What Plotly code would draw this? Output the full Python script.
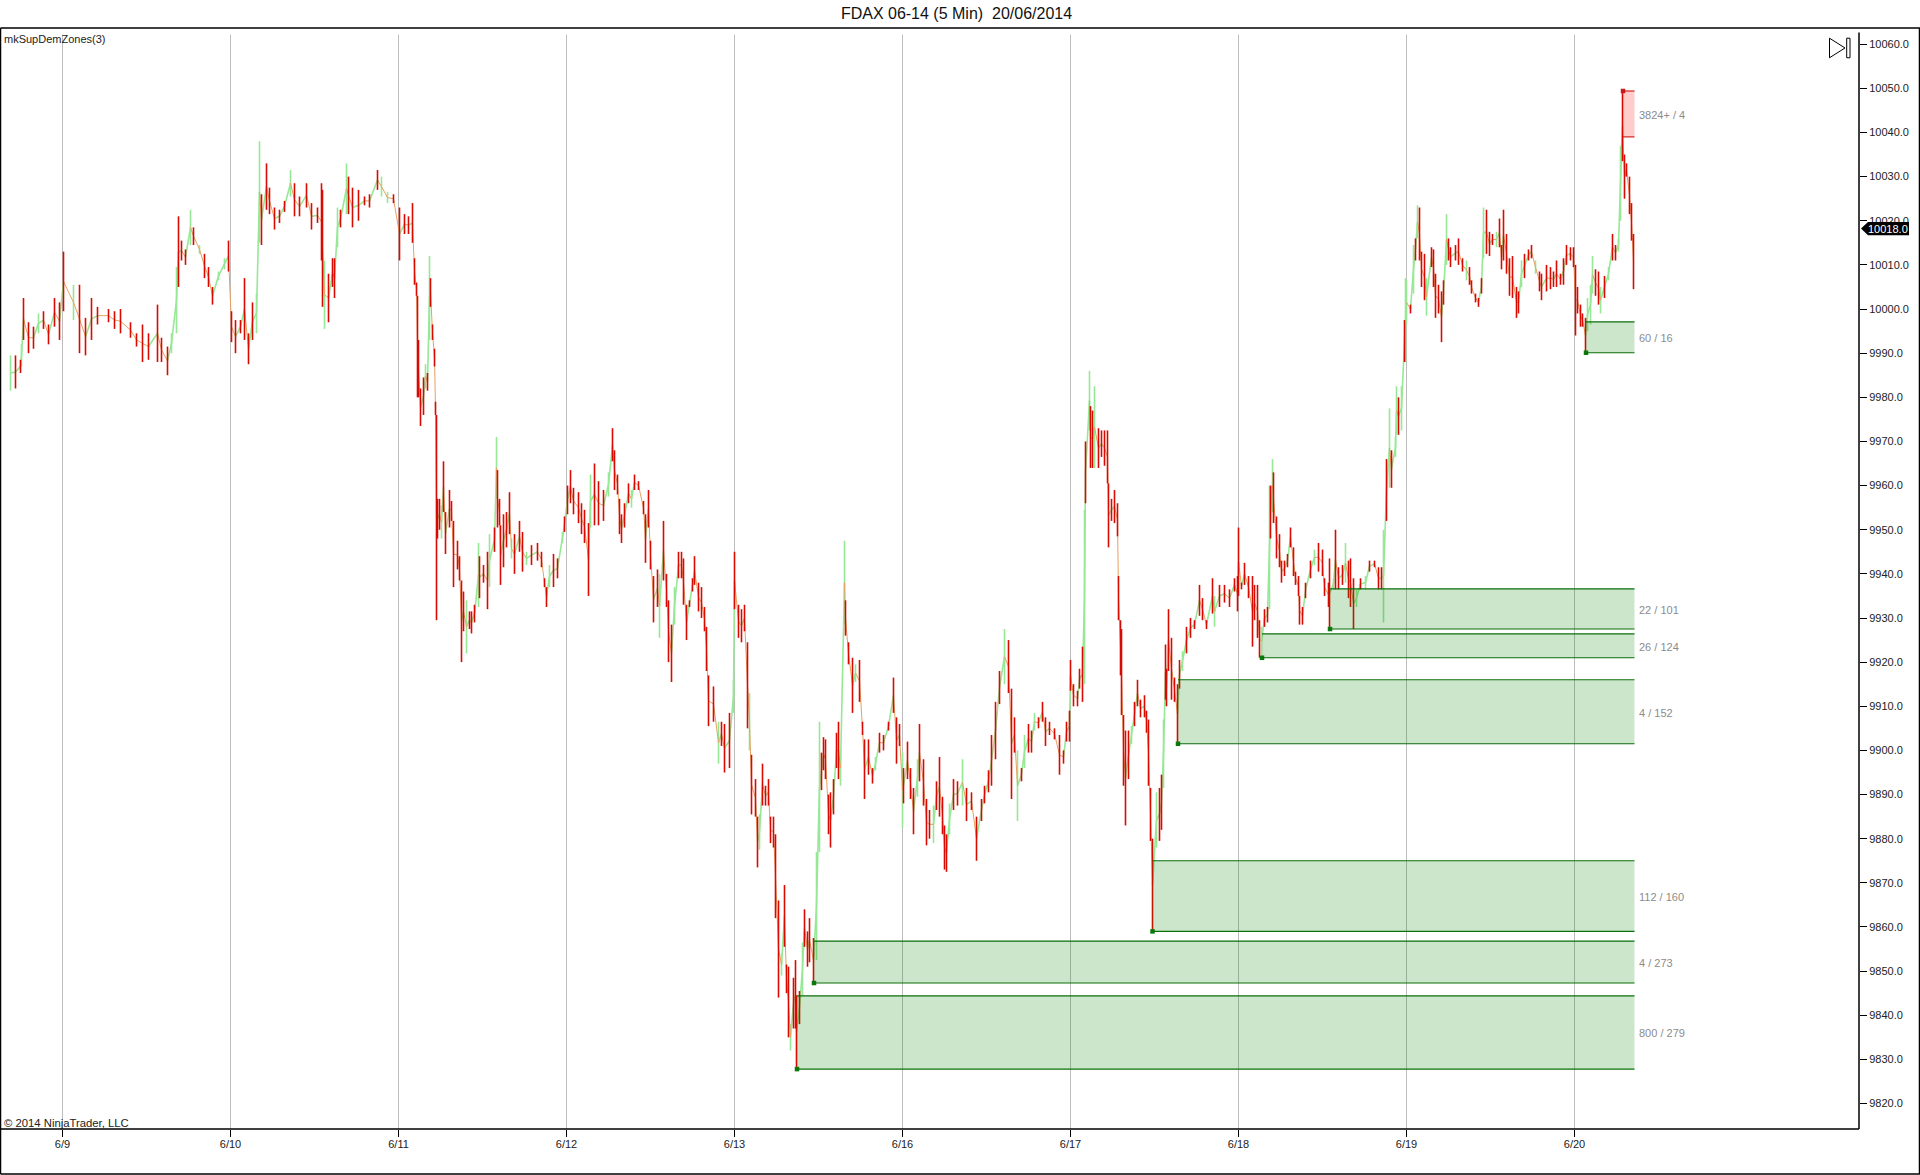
import plotly.graph_objects as go

# bars: time = 5 min bar number counted from the 6/9 tick
time_0606 = [-52, -47, -42, -41, -39, -34, -29, -24, -19, -14, -8, -3]
high_0606 = [9989.5, 9989.5, 9988.5, 9992, 10002.5, 9997, 9996, 9999, 9999.5, 9996.5, 10002.5, 10001.5]
low_0606 = [9981.5, 9982, 9985.5, 9987, 9993, 9990, 9991, 9994.5, 9995.5, 9992, 9996, 9993]

time_0609 = [1, 11, 17, 23, 29, 35, 46, 52, 58, 68, 74, 80, 86, 95, 99, 105, 109, 114, 116, 119, 123, 128, 131, 137, 142, 146, 150, 156, 162, 166]
high_0609 = [10013, 10005.5, 10005.5, 9998, 10002.5, 10000.5, 10000, 9999.5, 10000, 9997, 9994.5, 9996.5, 9994.5, 10001, 9993.5, 9991.5, 9994.5, 10009.5, 10021, 10015.5, 10013.5, 10022.5, 10018.5, 10014.5, 10012.5, 10009.5, 10005, 10008.5, 10011.5, 10015.5]
low_0609 = [9999.5, 9997.5, 9990, 9989.5, 9993, 9996.5, 9997, 9995.5, 9994.5, 9993.5, 9991.5, 9988, 9988.5, 9988, 9988, 9985, 9990, 9994.5, 10005, 10011, 10010, 10014.5, 10014.5, 10012.5, 10007, 10005, 10001, 10006.5, 10009, 10008.5]

time_0610 = [169, 173, 178, 182, 186, 190, 194, 197, 199, 204, 207, 212, 217, 222, 228, 232, 237, 244, 249, 255, 259, 260, 262, 266, 270, 272, 275, 278, 284, 286, 290, 296, 302, 307, 315, 319, 325, 331]
high_0610 = [9999.5, 9997.5, 9997.5, 10007, 9994.5, 10001.5, 10003.5, 10038, 10026, 10033, 10027.5, 10023, 10022.5, 10024.5, 10031.5, 10028.5, 10025.5, 10028.5, 10024, 10023, 10028.5, 10027, 10011, 10008, 10011.5, 10011.5, 10023, 10022.5, 10033, 10030, 10027.5, 10027, 10025.5, 10026, 10031.5, 10030, 10026.5, 10026]
low_0610 = [9992.5, 9990, 9994.5, 9993, 9987.5, 9993, 9994.5, 10015, 10014.5, 10022.5, 10021.5, 10018, 10019.5, 10022, 10025.5, 10021, 10021, 10023, 10018, 10019.5, 10011, 10000.5, 9995.5, 9997, 10005, 10002.5, 10014, 10018.5, 10021.5, 10021.5, 10018.5, 10020, 10023.5, 10023, 10027, 10025.5, 10024, 10024]

time_0611 = [337, 342, 346, 350, 352, 354, 355, 356, 358, 361, 363, 365, 367, 368, 370, 372, 373, 374, 375, 377, 379, 381, 383, 387, 389, 391, 395, 397, 399, 401, 404, 407, 409, 412, 416, 417, 421, 425, 427, 432, 434, 435, 437, 438, 441, 444, 447, 449, 452, 457, 460, 464, 469, 475, 479, 482, 484, 487, 491, 495, 500, 502]
high_0611 = [10023, 10021.5, 10021, 10024, 10011.5, 10006, 10003, 9993, 9982, 9984.5, 9987.5, 9985.5, 10012, 10007, 9996.5, 9991, 9979, 9976, 9957, 9957, 9955.5, 9965.5, 9954, 9959, 9956.5, 9952, 9947.5, 9944, 9938.5, 9936, 9934, 9931.5, 9931.5, 9933, 9947, 9944, 9942, 9945, 9949, 9950.5, 9971, 9963.5, 9957, 9951, 9953.5, 9954, 9958.5, 9948, 9949, 9952, 9949.5, 9945, 9946.5, 9947, 9945, 9939, 9937, 9942, 9944.5, 9943.5, 9949.5, 9953]
low_0611 = [10011, 10017, 10017, 10015, 10005.5, 10003, 9980, 9980, 9973.5, 9976, 9982, 9981.5, 9993, 10000.5, 9993, 9987, 9976, 9929.5, 9948, 9950, 9948, 9954, 9944.5, 9950.5, 9952, 9937, 9941, 9938.5, 9920, 9927, 9922, 9927.5, 9926.5, 9929, 9932.5, 9934.5, 9938, 9932, 9937, 9945, 9957, 9950.5, 9951, 9937.5, 9941.5, 9946, 9949, 9943.5, 9940, 9945, 9940.5, 9942, 9942, 9943, 9941.5, 9937, 9932.5, 9937, 9937, 9939, 9947, 9949.5]

time_0612 = [505, 508, 511, 516, 519, 522, 526, 528, 532, 536, 541, 546, 550, 552, 555, 557, 559, 562, 566, 569, 572, 576, 581, 583, 586, 588, 591, 595, 597, 601, 604, 606, 609, 612, 616, 619, 621, 624, 627, 630, 632, 636, 639, 642, 644, 646, 651, 656, 659, 662, 667, 671]
high_0612 = [9960, 9963.5, 9959.5, 9958.5, 9956, 9954.5, 9951.5, 9962.5, 9965, 9961, 9959, 9963, 9973, 9968, 9962.5, 9957, 9953.5, 9956, 9960.5, 9959, 9962.5, 9961, 9956.5, 9953.5, 9959, 9947.5, 9939.5, 9941, 9940, 9952, 9940, 9934, 9928.5, 9937, 9945, 9945, 9943.5, 9933, 9934, 9939, 9944, 9938, 9937, 9932.5, 9928, 9917, 9914.5, 9906.5, 9906.5, 9906, 9908.5, 9916]
low_0612 = [9953.5, 9956, 9953.5, 9951.5, 9949, 9947, 9935, 9950.5, 9951, 9951, 9952, 9957.5, 9965.5, 9959, 9958, 9949, 9947, 9950.5, 9956, 9955, 9959, 9959, 9953.5, 9942.5, 9950.5, 9941, 9929, 9932.5, 9925.5, 9938.5, 9932.5, 9920, 9915.5, 9928.5, 9939, 9939, 9933, 9925, 9932.5, 9936, 9937.5, 9931.5, 9930, 9927, 9918, 9905.5, 9906.5, 9897, 9901, 9895, 9896, 9908.5]

time_0613 = [672, 676, 679, 682, 685, 687, 689, 693, 695, 697, 700, 703, 706, 708, 711, 713, 716, 719, 722, 724, 726, 728, 731, 733, 734, 737, 740, 742, 745, 747, 751, 754, 757, 759, 761, 763, 766, 768, 771, 774, 776, 778, 782, 783, 786, 790, 793, 797, 800, 802, 806, 810, 813, 817, 821, 826, 831, 834, 837]
high_0613 = [9945, 9933, 9932, 9933, 9924.5, 9913, 9899, 9893.5, 9885, 9885.5, 9897, 9892, 9893.5, 9885, 9885, 9881, 9866, 9854, 9869.5, 9851.5, 9851, 9838, 9848.5, 9852.5, 9844.5, 9845.5, 9856.5, 9864, 9859, 9862, 9857.5, 9877, 9906.5, 9899.5, 9903, 9902.5, 9890, 9890.5, 9893.5, 9904, 9906.5, 9900, 9947.5, 9934, 9924.5, 9921, 9919.5, 9920.5, 9906.5, 9902.5, 9902.5, 9896, 9898.5, 9904, 9903.5, 9906.5, 9916.5, 9907.5, 9906]
low_0613 = [9932, 9925.5, 9924.5, 9927, 9905, 9900, 9885.5, 9885, 9873.5, 9877.5, 9887.5, 9887.5, 9887.5, 9879, 9878, 9862, 9844, 9849, 9855.5, 9845, 9835, 9832, 9837, 9837, 9828, 9838, 9844.5, 9855.5, 9851, 9852, 9847.5, 9852.5, 9877, 9891, 9895.5, 9893.5, 9881, 9878, 9885.5, 9896, 9893.5, 9892, 9928.5, 9926, 9919.5, 9908.5, 9915.5, 9911, 9903.5, 9889, 9894.5, 9892.5, 9895.5, 9899.5, 9900, 9904.5, 9908.5, 9897, 9901]

time_0616 = [840, 841, 845, 848, 851, 855, 857, 861, 864, 867, 871, 874, 877, 880, 882, 884, 887, 891, 895, 900, 904, 909, 914, 919, 922, 926, 929, 933, 937, 942, 946, 949, 952, 955, 959, 962, 966, 969, 972, 976, 980, 983, 987, 992, 997, 1001, 1004, 1007]
high_0616 = [9899.5, 9896, 9902, 9896, 9891.5, 9898, 9906, 9898, 9889, 9886.5, 9887.5, 9893, 9898.5, 9889.5, 9883, 9881, 9888, 9893.5, 9893, 9898, 9891.5, 9890.5, 9885, 9889, 9892, 9895.5, 9903.5, 9911, 9918, 9927.5, 9925, 9914, 9907.5, 9900, 9896, 9903.5, 9906, 9904.5, 9908.5, 9907.5, 9911, 9907.5, 9906.5, 9905, 9903.5, 9900, 9906.5, 9909]
low_0616 = [9882.5, 9888, 9893.5, 9889, 9881, 9889.5, 9893, 9887.5, 9878.5, 9880, 9879, 9886.5, 9885, 9881, 9873, 9872.5, 9881, 9886.5, 9887.5, 9887.5, 9884, 9886.5, 9875, 9884, 9888, 9890.5, 9892, 9898, 9910.5, 9915, 9913, 9889, 9899.5, 9884, 9893, 9896, 9899.5, 9899.5, 9904.5, 9905, 9906.5, 9901, 9903.5, 9902.5, 9894.5, 9897, 9902, 9902]

time_0617 = [1008, 1011, 1015, 1017, 1020, 1022, 1023, 1027, 1028, 1030, 1032, 1036, 1039, 1042, 1045, 1046, 1049, 1052, 1055, 1056, 1058, 1059, 1061, 1063, 1066, 1069, 1072, 1075, 1078, 1082, 1084, 1086, 1088, 1090, 1094, 1097, 1099, 1101, 1103, 1104, 1106, 1109, 1112, 1115, 1117, 1120, 1124, 1128, 1132, 1137, 1140, 1144, 1150, 1152, 1157, 1162, 1167, 1172, 1175]
high_0617 = [9920.5, 9915, 9913.5, 9918.5, 9923.5, 9954.5, 9970, 9986, 9978, 9977, 9982.5, 9973, 9972.5, 9972.5, 9972.5, 9960.5, 9957, 9959, 9956, 9939.5, 9929.5, 9927.5, 9908, 9904.5, 9904.5, 9905.5, 9911, 9916, 9911.5, 9912.5, 9909, 9907, 9891.5, 9880, 9890.5, 9891.5, 9894.5, 9907, 9924, 9918.5, 9932, 9925.5, 9916.5, 9915, 9920.5, 9922.5, 9928, 9930, 9929.5, 9937.5, 9934.5, 9929.5, 9939, 9935, 9937.5, 9937.5, 9936.5, 9939, 9939.5]
low_0617 = [9913.5, 9910, 9910, 9914, 9911, 9915, 9956, 9972.5, 9964, 9964, 9964, 9964, 9966.5, 9964.5, 9960.5, 9946, 9952, 9951.5, 9948.5, 9929.5, 9917, 9908, 9892, 9883, 9893.5, 9901.5, 9905.5, 9910, 9907.5, 9907.5, 9904, 9892, 9879.5, 9859, 9878, 9879.5, 9882, 9891.5, 9911.5, 9910, 9918, 9911.5, 9911, 9901.5, 9914, 9918, 9922, 9925.5, 9927.5, 9930.5, 9929.5, 9927.5, 9931, 9928, 9932.5, 9933.5, 9932.5, 9936, 9931.5]

time_0618 = [1176, 1179, 1182, 1186, 1190, 1192, 1195, 1197, 1199, 1202, 1205, 1207, 1208, 1210, 1211, 1214, 1217, 1219, 1222, 1225, 1228, 1231, 1233, 1236, 1237, 1240, 1243, 1248, 1252, 1256, 1260, 1262, 1266, 1267, 1271, 1273, 1276, 1280, 1283, 1286, 1288, 1291, 1294, 1298, 1303, 1307, 1312, 1316, 1319, 1321, 1324, 1327, 1329, 1333, 1334, 1336, 1339, 1342, 1343]
high_0618 = [9950.5, 9938, 9942.5, 9939.5, 9939.5, 9937.5, 9937.5, 9929.5, 9928, 9932, 9932.5, 9960, 9960, 9966, 9963, 9953, 9949, 9943, 9943, 9944.5, 9950.5, 9946, 9940.5, 9939.5, 9935, 9932.5, 9938, 9943, 9945.5, 9947, 9945.5, 9939, 9938, 9943.5, 9939, 9950, 9941.5, 9942, 9947, 9943, 9943.5, 9939, 9936.5, 9939, 9939.5, 9943, 9943, 9941.5, 9941.5, 9950, 9966, 9977.5, 9968, 9971, 9982.5, 9980, 9982.5, 9997.5, 10007]
low_0618 = [9935, 9936.5, 9937.5, 9934.5, 9923.5, 9929.5, 9925.5, 9921, 9921.5, 9928, 9929, 9932, 9948, 9954, 9951.5, 9943.5, 9941.5, 9938, 9939.5, 9941.5, 9946, 9939.5, 9937.5, 9935, 9928.5, 9928.5, 9934.5, 9939, 9942, 9940.5, 9939.5, 9935, 9932.5, 9927.5, 9936.5, 9936.5, 9936.5, 9937.5, 9938, 9934.5, 9932.5, 9927.5, 9932.5, 9936.5, 9936.5, 9940.5, 9941.5, 9936.5, 9936.5, 9929, 9952, 9959.5, 9959.5, 9966.5, 9971.5, 9971.5, 9972.5, 9988, 9988]

time_0619 = [1344, 1348, 1351, 1353, 1355, 1357, 1359, 1362, 1364, 1369, 1371, 1373, 1376, 1379, 1381, 1384, 1386, 1388, 1393, 1396, 1400, 1404, 1407, 1409, 1413, 1416, 1419, 1421, 1424, 1427, 1430, 1434, 1437, 1439, 1441, 1444, 1447, 1450, 1454, 1456, 1459, 1462, 1466, 1469, 1473, 1477, 1479, 1484, 1488, 1491, 1494, 1498, 1501, 1504, 1508, 1511]
high_0619 = [10006.5, 10001, 10014.5, 10016, 10023.5, 10023, 10013, 10012.5, 10007, 10014, 10013.5, 10008, 10005.5, 10004, 10006.5, 10021.5, 10016, 10014, 10014.5, 10016, 10011.5, 10011, 10009.5, 10006.5, 10003.5, 10002.5, 10007, 10023, 10022.5, 10017.5, 10017, 10017.5, 10020.5, 10014.5, 10022.5, 10017, 10011.5, 10012, 10005, 10004, 10011, 10012.5, 10013.5, 10014.5, 10011, 10008.5, 10008, 10010, 10009.5, 10008.5, 10011, 10008, 10011.5, 10014.5, 10014, 10014]
low_0619 = [9996.5, 9999, 10003.5, 10011, 10016, 10011, 10005, 10002, 9998.5, 10009.5, 10005, 9998, 9999, 9992.5, 10001, 10010, 10011, 10009.5, 10011, 10010, 10008.5, 10006.5, 10005.5, 10003.5, 10001.5, 10000.5, 10003.5, 10011.5, 10012.5, 10012, 10014.5, 10014, 10014, 10009, 10011, 10008, 10003, 10002.5, 9998, 9999, 10005, 10007, 10011, 10011.5, 10008, 10004, 10002, 10004, 10004.5, 10005, 10005, 10005.5, 10005.5, 10010, 10011, 10009.5]

time_0620 = [1513, 1515, 1518, 1520, 1523, 1525, 1528, 1530, 1533, 1536, 1538, 1542, 1546, 1550, 1553, 1556, 1558, 1560, 1562, 1564, 1567, 1569, 1571]
high_0620 = [10010, 10005, 10001, 9999, 9998, 10002.5, 10005.5, 10012, 10009, 10008.5, 10005, 10007.5, 10009.5, 10017, 10014.5, 10016, 10037, 10049.5, 10035, 10033, 10030, 10024, 10017]
low_0620 = [9994, 9999, 9996, 9996, 9990, 9995, 9996.5, 10003.5, 10003, 10001, 9999, 10002.5, 10006.5, 10011, 10011, 10013, 10020, 10033.5, 10025, 10030, 10021.5, 10015.5, 10004.5]

# bars that closed up, all others are down bars
up_bars = [-52, -41, -24, 11, 109, 114, 128, 137, 156, 162, 194, 197, 228, 262, 275, 284, 319, 325,
           363, 367, 379, 404, 416, 427, 434, 449, 464, 487, 500, 528, 546, 569, 597, 612, 656, 671,
           687, 697, 719, 728, 740, 754, 757, 778, 782, 793, 813, 840, 855, 871, 887, 900, 942, 955, 962, 972,
           1022, 1027, 1032, 1069, 1094, 1101, 1120, 1152, 1199, 1207, 1210, 1252, 1271, 1283, 1294, 1303,
           1321, 1327, 1333, 1334, 1339, 1343, 1344, 1351, 1355, 1364, 1384, 1404, 1421, 1434, 1459, 1473,
           1525, 1528, 1530, 1538, 1546, 1556, 1558]

# supply and demand zones
zone_start = [1560.5, 1523.5, 1267.5, 1199.5, 1115.5, 1090, 751.5, 734.5]
zone_end = 1572
zone_top = [10049.4, 9997.1, 9936.6, 9926.4, 9916, 9875, 9856.8, 9844.4]
zone_bottom = [10039, 9990.1, 9927.5, 9921, 9901.5, 9859, 9847.3, 9827.8]
zone_kind = ["supply", "demand", "demand", "demand", "demand", "demand", "demand", "demand"]
zone_label = ["3824+ / 4", "60 / 16", "22 / 101", "26 / 124", "4 / 152", "112 / 160", "4 / 273", "800 / 279"]

tick_time = [0, 168, 336, 504, 672, 840, 1008, 1176, 1344, 1512]
tick_label = ["6/9", "6/10", "6/11", "6/12", "6/13", "6/16", "6/17", "6/18", "6/19", "6/20"]
last_price = 10018.0

bar_time = time_0606 + time_0609 + time_0610 + time_0611 + time_0612 + time_0613 + time_0616 + time_0617 + time_0618 + time_0619 + time_0620
bar_high = high_0606 + high_0609 + high_0610 + high_0611 + high_0612 + high_0613 + high_0616 + high_0617 + high_0618 + high_0619 + high_0620
bar_low = low_0606 + low_0609 + low_0610 + low_0611 + low_0612 + low_0613 + low_0616 + low_0617 + low_0618 + low_0619 + low_0620

W, H = 1920, 1175
L, R, T, B = 1, 1859, 27.5, 1129.5
FONT = "Liberation Sans"
GREEN = "#0a6e0a"
UP = "#96e896"
DOWN = "#d80a02"


def xp(px):
    return (px - L) / (R - L)


def yp(py):
    return (B - py) / (B - T)


def frame_line(x0, y0, x1, y1, color="#000000", width=1.5):
    return dict(type="line", xref="paper", yref="paper", x0=xp(x0), y0=yp(y0), x1=xp(x1), y1=yp(y1),
                line=dict(color=color, width=width))


def bar_lines(want_up):
    xs, ys = [], []
    for t, hi, lo in zip(bar_time, bar_high, bar_low):
        if (t in up_bars) == want_up:
            xs += [t, t, None]
            ys += [hi, lo, None]
    return xs, ys


def step_lines(rising):
    # joins one bar to the next so the run of bars reads as one band
    xs, ys = [], []
    for i in range(len(bar_time) - 1):
        a = (bar_high[i] + bar_low[i]) / 2
        b = (bar_high[i + 1] + bar_low[i + 1]) / 2
        if (b > a) == rising:
            xs += [bar_time[i], bar_time[i + 1], None]
            ys += [a, b, None]
    return xs, ys


fig = go.Figure()

# day lines stop a little under the top border
grid_x, grid_y = [], []
for t in tick_time:
    grid_x += [t, t, None]
    grid_y += [9814, 10062.2, None]
fig.add_trace(go.Scatter(x=grid_x, y=grid_y, mode="lines", line=dict(color="#bdbdbd", width=1), hoverinfo="skip"))

sx, sy = step_lines(True)
fig.add_trace(go.Scatter(x=sx, y=sy, mode="lines", line=dict(color=UP, width=1.6), hoverinfo="skip"))
gx, gy = bar_lines(True)
fig.add_trace(go.Scatter(x=gx, y=gy, mode="lines", line=dict(color=UP, width=1.6), name="up"))
sx, sy = step_lines(False)
fig.add_trace(go.Scatter(x=sx, y=sy, mode="lines", line=dict(color="#e8a060", width=1), hoverinfo="skip"))
rx, ry = bar_lines(False)
fig.add_trace(go.Scatter(x=rx, y=ry, mode="lines", line=dict(color=DOWN, width=1.6), name="down"))

shapes = []
annotations = []
for start, top, bottom, kind, label in zip(zone_start, zone_top, zone_bottom, zone_kind, zone_label):
    col = GREEN if kind == "demand" else "#d01010"
    fill = "rgba(0,128,0,0.2)" if kind == "demand" else "rgba(255,0,0,0.2)"
    shapes.append(dict(type="rect", xref="x", yref="y", x0=start, x1=zone_end, y0=bottom, y1=top,
                       fillcolor=fill, line=dict(width=0)))
    for level in (top, bottom):
        shapes.append(dict(type="line", xref="x", yref="y", x0=start, x1=zone_end, y0=level, y1=level,
                           line=dict(color=col, width=1.1)))
    annotations.append(dict(x=zone_end + 2.5, y=(top + bottom) / 2, xref="x", yref="y", text=label, showarrow=False,
                            xanchor="left", yanchor="middle", yshift=-1,
                            font=dict(family=FONT, size=11, color="#8c8c8c")))

fig.add_trace(go.Scatter(
    x=[s for s, k in zip(zone_start, zone_kind) if k == "demand"],
    y=[b for b, k in zip(zone_bottom, zone_kind) if k == "demand"],
    mode="markers", marker=dict(symbol="square", size=4.5, color="#0b7a0b")))
fig.add_trace(go.Scatter(
    x=[s for s, k in zip(zone_start, zone_kind) if k == "supply"],
    y=[t for t, k in zip(zone_top, zone_kind) if k == "supply"],
    mode="markers", marker=dict(symbol="square", size=4.5, color="#c02020")))

# chart frame
shapes += [
    frame_line(0.5, T, W, T),
    frame_line(0.5, T, 0.5, H - 0.5),
    frame_line(W - 0.5, T, W - 0.5, H - 0.5),
    frame_line(0.5, H - 0.5, W, H - 0.5),
    frame_line(0.5, B, R, B),
    frame_line(R, 32, R, B),
]

# jump to last bar icon
shapes.append(dict(type="path", xref="paper", yref="paper",
                   path=f"M {xp(1829.5)} {yp(37.7)} L {xp(1845)} {yp(47.5)} L {xp(1829.5)} {yp(57.3)} Z",
                   line=dict(color="#000000", width=1), fillcolor="#ffffff"))
shapes.append(dict(type="rect", xref="paper", yref="paper", x0=xp(1846.7), x1=xp(1850), y0=yp(37.7), y1=yp(57.3),
                   line=dict(color="#000000", width=1), fillcolor="#ffffff"))

# last price tag
shapes.append(dict(type="path", xref="paper", yref="paper",
                   path=f"M {xp(1861)} {yp(228.3)} L {xp(1868)} {yp(221.7)} L {xp(1909)} {yp(221.7)} "
                        f"L {xp(1909)} {yp(235)} L {xp(1868)} {yp(235)} Z",
                   line=dict(width=0), fillcolor="#000000"))
annotations.append(dict(x=xp(1866), y=yp(228.3), xref="paper", yref="paper", text=f"{last_price:.1f}", showarrow=False,
                        xanchor="left", yanchor="middle", font=dict(family=FONT, size=11, color="#ffffff")))

annotations.append(dict(x=xp(2), y=yp(38.5), xref="paper", yref="paper", text="mkSupDemZones(3)", showarrow=False,
                        xanchor="left", yanchor="middle", font=dict(family=FONT, size=11, color="#222222")))
annotations.append(dict(x=xp(2), y=yp(1123.5), xref="paper", yref="paper", text="© 2014 NinjaTrader, LLC",
                        showarrow=False, xanchor="left", yanchor="middle",
                        font=dict(family=FONT, size=11.3, color="#222222")))

fig.update_layout(
    width=W, height=H,
    margin=dict(l=L, r=W - R, t=T, b=H - B, pad=0),
    paper_bgcolor="#ffffff", plot_bgcolor="#ffffff",
    showlegend=False,
    title=dict(text="FDAX 06-14 (5 Min)\u00a0\u00a020/06/2014", x=956.5 / W, xanchor="center", y=1 - 13 / H,
               yanchor="middle", font=dict(family=FONT, size=16, color="#111111")),
    shapes=shapes,
    annotations=annotations,
)
fig.update_xaxes(range=[L - 62.5, R - 62.5], tickmode="array", tickvals=tick_time, ticktext=tick_label,
                 showgrid=False, zeroline=False, showline=False, ticks="outside", ticklen=7, tickcolor="#000000",
                 ticklabelstandoff=-2, tickfont=dict(family=FONT, size=11, color="#222222"))
fig.update_yaxes(range=[9814.23, 10063.67], side="right", dtick=10, tick0=9820, tickformat=".1f",
                 showgrid=False, zeroline=False, showline=False, ticks="outside", ticklen=7, tickcolor="#000000",
                 tickfont=dict(family=FONT, size=11, color="#222222"))

fig.write_html("out.html", config={"displayModeBar": False},
               post_script="document.body.style.margin='0';document.body.style.overflow='hidden';")
